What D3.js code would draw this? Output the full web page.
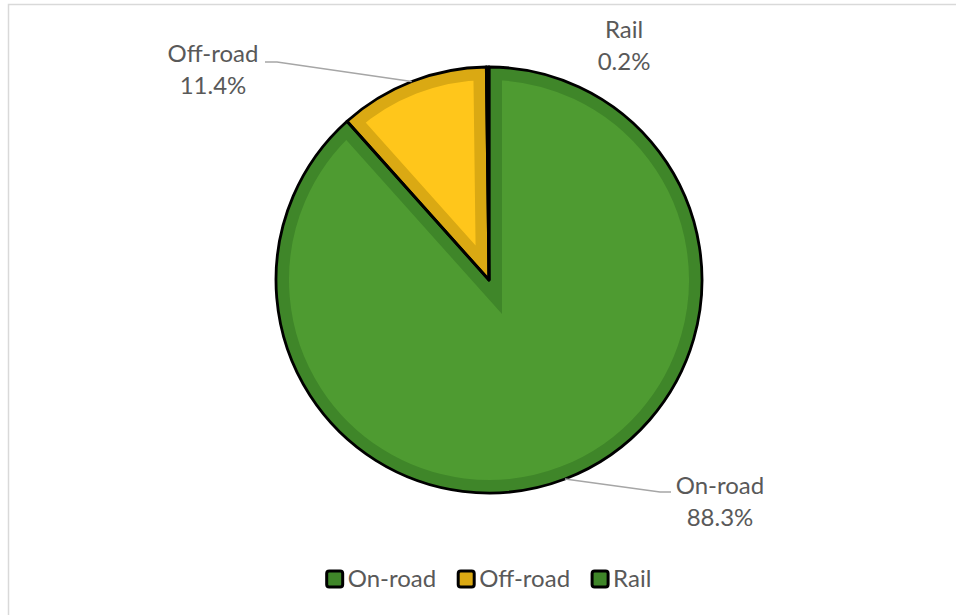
<!DOCTYPE html>
<html>
<head>
<meta charset="utf-8">
<script src="https://cdn.jsdelivr.net/npm/d3@7"></script>
<style>
  html, body { margin: 0; padding: 0; background: #fff; }
  svg { display: block; }
  text { font-family: Lato, "Open Sans", sans-serif; fill: #595959; }
</style>
</head>
<body>
<svg id="chart" width="956" height="615"></svg>
<script>
// Share of emissions by mode
const categories = ["On-road", "Off-road", "Rail"];
const shares = [88.3, 11.4, 0.2];
const shareLabels = ["88.3%", "11.4%", "0.2%"];
const fillColors = ["#4E9B31", "#FFC61B", "#4E9B31"];
const bandColors = ["#3F8629", "#DAA913", "#3F8629"];

const W = 956, H = 615;
const cx = 489, cy = 280, R = 213;
const fontSize = 24;

const svg = d3.select("#chart");

// outer frame
svg.append("rect")
  .attr("x", 8.5).attr("y", 4.5)
  .attr("width", W + 20).attr("height", H + 20)
  .attr("fill", "none").attr("stroke", "#D9D9D9").attr("stroke-width", 1.5);

const data = categories.map((c, i) => ({ name: c, value: shares[i], label: shareLabels[i], fill: fillColors[i], band: bandColors[i] }));

const pie = d3.pie().sort(null).value(d => d.value);
const arcs = pie(data);
const arc = d3.arc().innerRadius(0).outerRadius(R);

const g = svg.append("g").attr("transform", `translate(${cx},${cy})`);
const defs = svg.append("defs");

arcs.forEach((a, i) => {
  const id = "clip-slice-" + i;
  defs.append("clipPath").attr("id", id).append("path").attr("d", arc(a));
  // light fill with a darker inner band
  g.append("path")
    .attr("d", arc(a))
    .attr("fill", a.data.fill)
    .attr("stroke", a.data.band)
    .attr("stroke-width", 26)
    .attr("stroke-linejoin", "miter")
    .attr("clip-path", `url(#${id})`);
});

// black slice outlines
arcs.forEach(a => {
  g.append("path")
    .attr("d", arc(a))
    .attr("fill", "none")
    .attr("stroke", "#000")
    .attr("stroke-width", 2.8)
    .attr("stroke-linejoin", "round");
});

// data labels: placement relative to the pie centre, with optional leader lines
const labelLayout = {
  "On-road":  { x: 231, y: 214, leader: { elbowX: 171, elbowY: 212, endX: 182 } },
  "Off-road": { x: -276, y: -218, leader: { elbowX: -212, elbowY: -218, endX: -224 } },
  "Rail":     { x: 135, y: -242, leader: null }
};

const lineGap = 32;
arcs.forEach(a => {
  const L = labelLayout[a.data.name];
  const mid = (a.startAngle + a.endAngle) / 2;
  if (L.leader) {
    const px = R * Math.sin(mid), py = -R * Math.cos(mid);
    g.append("polyline")
      .attr("points", [[px, py], [L.leader.elbowX, L.leader.elbowY], [L.leader.endX, L.leader.elbowY]].map(p => p.join(",")).join(" "))
      .attr("fill", "none")
      .attr("stroke", "#A6A6A6")
      .attr("stroke-width", 1.3);
  }
  const t = g.append("text")
    .attr("text-anchor", "middle")
    .attr("font-size", fontSize);
  t.append("tspan").attr("x", L.x).attr("y", L.y).text(a.data.name);
  t.append("tspan").attr("x", L.x).attr("y", L.y + lineGap).text(a.data.label);
});

// legend, centred under the pie
const legend = svg.append("g");
const sw = 16, swGap = 5, itemGap = 22;
let xPos = 0;
data.forEach(d => {
  const item = legend.append("g").attr("transform", `translate(${xPos},0)`);
  item.append("rect")
    .attr("x", 0).attr("y", -sw / 2)
    .attr("width", sw).attr("height", sw)
    .attr("rx", 2.5)
    .attr("fill", d.band)
    .attr("stroke", "#000").attr("stroke-width", 3);
  const txt = item.append("text")
    .attr("x", sw + swGap).attr("y", 0)
    .attr("dy", "0.35em")
    .attr("font-size", fontSize)
    .text(d.name);
  xPos += sw + swGap + txt.node().getComputedTextLength() + itemGap;
});
const legendWidth = xPos - itemGap;
legend.attr("transform", `translate(${cx - legendWidth / 2},579)`);
</script>
</body>
</html>
